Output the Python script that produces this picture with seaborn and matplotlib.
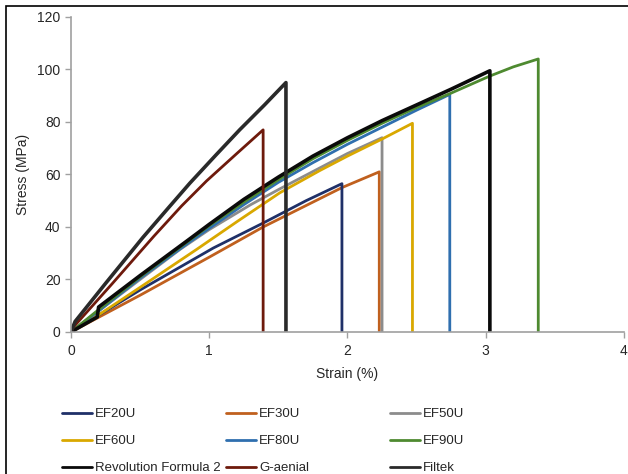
import numpy as np
import pandas as pd
import matplotlib
matplotlib.use("Agg")
import matplotlib.pyplot as plt
from matplotlib.patches import Rectangle
import seaborn as sns

# Values (strain %, stress MPa)
# each series ends with the vertical drop to zero at failure
ef20u_strain = [0, 0.5, 1.03, 1.39, 1.70, 1.96, 1.96]
ef20u_stress = [0, 16, 32, 41.5, 50, 56.5, 0]

ef30u_strain = [0, 0.5, 1.0, 1.39, 1.96, 2.23, 2.23]
ef30u_stress = [0, 14, 28.5, 40, 55, 61, 0]

ef50u_strain = [0, 0.2, 0.5, 0.79, 1.0, 1.3, 1.51, 1.8, 2.0, 2.25, 2.25]
ef50u_stress = [0, 8, 20, 31.5, 39, 48.5, 54.5, 62.5, 68, 74, 0]

ef60u_strain = [0, 0.2, 0.5, 0.91, 1.2, 1.51, 1.8, 2.0, 2.25, 2.47, 2.47]
ef60u_stress = [0, 6.5, 17, 31.5, 42, 53, 61.5, 67, 73.5, 79.5, 0]

ef80u_strain = [0, 0.2, 0.5, 0.85, 1.0, 1.25, 1.5, 1.75, 2.0, 2.25, 2.5, 2.74, 2.74]
ef80u_stress = [0, 8, 20.5, 34, 39.5, 48.5, 57, 64.5, 71.5, 78, 84.5, 90.5, 0]

ef90u_strain = [0, 0.2, 0.5, 0.82, 1.0, 1.25, 1.5, 1.75, 2.0, 2.25, 2.5, 2.75, 3.03, 3.2, 3.38, 3.38]
ef90u_stress = [0, 8.5, 21, 33.5, 40.5, 49.5, 58, 66, 73, 79.5, 85.5, 91, 97.5, 101, 104, 0]

rev2_strain = [0, 0.19, 0.2, 0.5, 0.86, 1.0, 1.25, 1.5, 1.75, 2.0, 2.25, 2.5, 2.75, 3.03, 3.03]
rev2_stress = [0, 5.7, 9.5, 21.5, 35.5, 41, 50.5, 59, 67, 74, 80.5, 86.5, 92.5, 99.5, 0]

gaenial_strain = [0, 0.02, 0.3, 0.6, 0.8, 0.98, 1.2, 1.39, 1.39]
gaenial_stress = [0, 2, 18.5, 36.5, 48, 57.5, 68, 77, 0]

filtek_strain = [0, 0.03, 0.25, 0.52, 0.7, 0.86, 1.05, 1.22, 1.4, 1.555, 1.555]
filtek_stress = [0, 4, 18.5, 36, 47, 56.7, 67.5, 77, 86.5, 95, 0]

names = ["EF30U", "EF20U", "EF50U", "EF60U", "EF80U", "EF90U",
         "Revolution Formula 2", "G-aenial", "Filtek"]
strains = [ef30u_strain, ef20u_strain, ef50u_strain, ef60u_strain, ef80u_strain,
           ef90u_strain, rev2_strain, gaenial_strain, filtek_strain]
stresses = [ef30u_stress, ef20u_stress, ef50u_stress, ef60u_stress, ef80u_stress,
            ef90u_stress, rev2_stress, gaenial_stress, filtek_stress]
colors = {"EF20U": "#1F3068", "EF30U": "#C0601E", "EF50U": "#8C8C8C",
          "EF60U": "#D9A800", "EF80U": "#2F6FAF", "EF90U": "#4E8A30",
          "Revolution Formula 2": "#0A0A0A", "G-aenial": "#6E1A0C",
          "Filtek": "#2A2A2A"}
widths = {"Revolution Formula 2": 2.6, "Filtek": 2.6}

sns.set_style("white")
plt.rcParams["font.family"] = ["Liberation Sans", "DejaVu Sans"]

fig = plt.figure(figsize=(6.28, 4.74), dpi=100)
ax = fig.add_axes([0.113, 0.2996, 0.8806, 0.6646])

for name, xs, ys in zip(names, strains, stresses):
    df = pd.DataFrame({"strain": xs, "stress": ys})
    sns.lineplot(data=df, x="strain", y="stress", sort=False, estimator=None,
                 color=colors[name], lw=widths.get(name, 2.0), label=name, ax=ax)

ax.set_xlim(0, 4)
ax.set_ylim(0, 120)
ax.set_xticks([0, 1, 2, 3, 4])
ax.set_yticks(range(0, 121, 20))
ax.set_xlabel("Strain (%)", fontsize=10, labelpad=6)
ax.set_ylabel("Stress (MPa)", fontsize=10, labelpad=5)
ax.tick_params(axis="both", labelsize=10, direction="out", length=4,
               width=1, color="#A0A0A0", bottom=True, left=True)
ax.tick_params(axis="x", pad=5)
for side in ["top", "right"]:
    ax.spines[side].set_visible(False)
for side in ["left", "bottom"]:
    ax.spines[side].set_color("#A0A0A0")
    ax.spines[side].set_linewidth(1.2)

# legend: three columns placed like the reference
handles, labels = ax.get_legend_handles_labels()
ax.get_legend().remove()
lookup = dict(zip(labels, handles))
legend_cols = [["EF20U", "EF60U", "Revolution Formula 2"],
               ["EF30U", "EF80U", "G-aenial"],
               ["EF50U", "EF90U", "Filtek"]]
col_x = [62, 226, 390]
for keys, x0 in zip(legend_cols, col_x):
    leg = fig.legend([lookup[k] for k in keys], keys, frameon=False,
                     loc="upper left", bbox_to_anchor=(x0 / 628, 1 - 408 / 474),
                     fontsize=9.5, handlelength=2.3, handletextpad=0.2,
                     labelspacing=1.12, borderaxespad=0, borderpad=0)
    for line in leg.get_lines():
        line.set_linewidth(2)

fig.patches.append(Rectangle((6 / 628, -0.05), 1.1, (474 - 6) / 474 + 0.05,
                             transform=fig.transFigure, fill=False,
                             edgecolor="black", lw=1.2))

fig.savefig("out.png", dpi=100)
